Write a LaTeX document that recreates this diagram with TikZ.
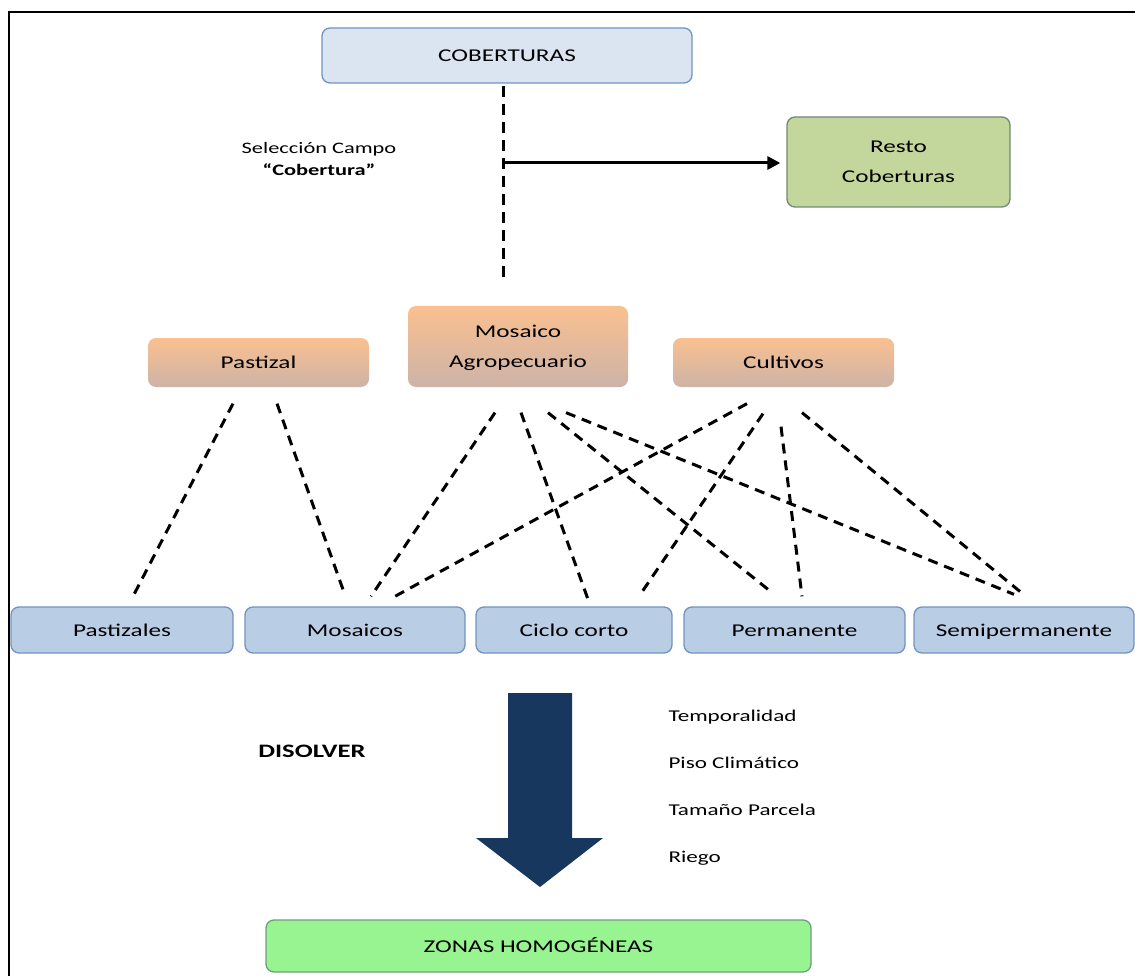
\documentclass[tikz,border=0pt]{standalone}
\usepackage{fontspec}
\setmainfont{Carlito}
\usepackage{graphicx}
\usepackage{tikz}
\usepackage{xcolor}
\usetikzlibrary{calc,arrows.meta}

\definecolor{azulclaro}{HTML}{DBE5F1}
\definecolor{azulmedio}{HTML}{B9CDE5}
\definecolor{bordeazul}{HTML}{7393BC}
\definecolor{naranja}{HTML}{FAC08F}
\definecolor{rosagris}{HTML}{CDB3A8}
\definecolor{verdeoliva}{HTML}{C3D69B}
\definecolor{bordeoliva}{HTML}{6F8878}
\definecolor{verdeclaro}{HTML}{98F490}
\definecolor{bordeverde}{HTML}{6E9E7E}
\definecolor{marino}{HTML}{17375E}

\newcommand{\ancho}[1]{\scalebox{1.4}[1]{\begin{tabular}{@{}c@{}}#1\end{tabular}}}
\newcommand{\letra}{\fontsize{18}{30}\selectfont}

\tikzset{
 caja/.style={rounded corners=8pt, line width=1.3pt, inner sep=0pt, align=center, font=\letra},
 cajaazul/.style={caja, fill=azulclaro, draw=bordeazul},
 cajabase/.style={caja, fill=azulmedio, draw=bordeazul, minimum height=46pt},
 cajanaranja/.style={caja, top color=naranja, bottom color=rosagris},
 enlace/.style={line width=3pt, dash pattern=on 10pt off 7pt},
 flecha/.style={line width=3pt, -{Triangle[length=13pt,width=13pt]}}
}

\begin{document}
\begin{tikzpicture}[x=1pt,y=-1pt]
 \useasboundingbox (0,0) rectangle (1135,976);
 \draw[line width=2pt] (9,976) -- (9,12) -- (1135,12);

 \node[cajaazul, minimum width=370pt, minimum height=55pt] (cob) at (507,55.5) {\ancho{COBERTURAS}};
 \node[caja, fill=verdeoliva, draw=bordeoliva, minimum width=223pt, minimum height=90pt] (resto) at (898.5,162) {\ancho{Resto\\Coberturas}};
 \node[font=\fontsize{16}{22}\selectfont] (seleccion) at (319,160) {\ancho{Selección Campo\\\textbf{“Cobertura”}}};

 \node[cajanaranja, minimum width=221pt, minimum height=49pt] (pastizal) at (258.5,362.5) {\ancho{Pastizal}};
 \node[cajanaranja, minimum width=220pt, minimum height=81pt] (mosaico) at (518,346.5) {\ancho{Mosaico\\Agropecuario}};
 \node[cajanaranja, minimum width=221pt, minimum height=49pt] (cultivos) at (783.5,362.5) {\ancho{Cultivos}};

 \node[cajabase, minimum width=222pt] (pastizales) at (122,630) {\ancho{Pastizales}};
 \node[cajabase, minimum width=220pt] (mosaicos) at (355,630) {\ancho{Mosaicos}};
 \node[cajabase, minimum width=196pt] (ciclo) at (574,630) {\ancho{Ciclo corto}};
 \node[cajabase, minimum width=221pt] (permanente) at (794.5,630) {\ancho{Permanente}};
 \node[cajabase, minimum width=220pt] (semi) at (1024,630) {\ancho{Semipermanente}};

 \node[caja, fill=verdeclaro, draw=bordeverde, minimum width=545pt, minimum height=52pt] (zonas) at (538.5,946) {\ancho{ZONAS HOMOGÉNEAS}};

 \coordinate (rama) at (503,163);
 \draw[enlace, dash pattern=on 11pt off 7pt] ($(cob.south)+(-4,2)$) -- ($(mosaico.north)+(-15,-24)$);
 \draw[flecha, shorten >=6pt] (rama) -- (rama -| resto.west);

 \draw[enlace] ($(pastizal.south)+(-25.5,16)$) -- ($(pastizales.north)+(11,-10)$);
 \draw[enlace] ($(pastizal.south)+(18.5,16)$) -- ($(mosaicos.north)+(-11,-14)$);

 \draw[enlace] ($(mosaico.south)+(-23,25)$) -- ($(mosaicos.north)+(16,-10)$);
 \draw[enlace] ($(mosaico.south)+(3,25)$) -- ($(ciclo.north)+(14,-7)$);
 \draw[enlace] ($(mosaico.south)+(30,25)$) -- ($(permanente.north)+(-26.5,-17)$);
 \draw[enlace] ($(mosaico.south)+(48,25)$) -- ($(semi.north)+(-10,-12)$);

 \draw[enlace] ($(cultivos.south)+(-36.5,16)$) -- ($(mosaicos.north)+(40,-10)$);
 \draw[enlace] ($(cultivos.south)+(-20.5,26)$) -- ($(ciclo.north)+(65,-10)$);
 \draw[enlace] ($(cultivos.south)+(-2.5,39)$) -- ($(permanente.north)+(7.5,-10)$);
 \draw[enlace] ($(cultivos.south)+(18.5,25)$) -- ($(semi.north)+(-3,-14)$);

 % flecha de disolver
 \fill[marino] (508,693) -- (572,693) -- (572,838) -- (603,838) -- (540,887) -- (476,838) -- (508,838) -- cycle;
 \node[font=\fontsize{19}{23}\selectfont\bfseries] (disolver) at (312,753) {\ancho{DISOLVER}};

 \node[anchor=west, font=\fontsize{16.5}{20}\selectfont] (temporalidad) at (665,717) {\ancho{Temporalidad}};
 \node[anchor=west, font=\fontsize{16.5}{20}\selectfont] (piso) at (665,764) {\ancho{Piso Climático}};
 \node[anchor=west, font=\fontsize{16.5}{20}\selectfont] (tamano) at (665,811) {\ancho{Tamaño Parcela}};
 \node[anchor=west, font=\fontsize{16.5}{20}\selectfont] (riego) at (665,858) {\ancho{Riego}};
\end{tikzpicture}
\end{document}
